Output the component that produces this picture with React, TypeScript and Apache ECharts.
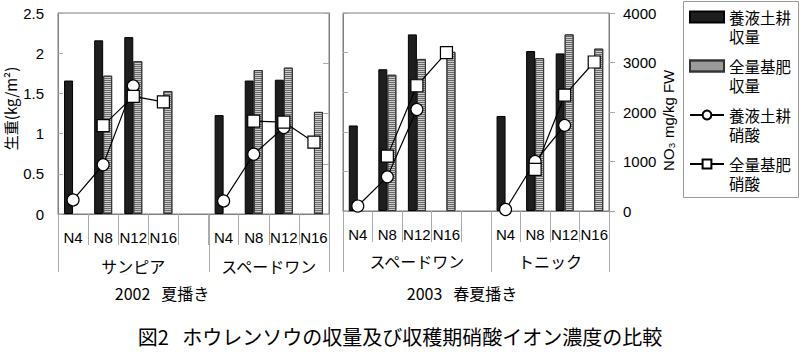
import React, { useEffect, useRef } from 'react';
import * as echarts from 'echarts';

// ---- data ----
const slots = ['N4', 'N8', 'N12', 'N16', '', 'N4', 'N8', 'N12', 'N16'];
const groups2002 = ['サンピア', 'スペードワン'];
const groups2003 = ['スペードワン', 'トニック'];
const yearLabels = ['2002\u00a0\u00a0\u00a0夏播き', '2003\u00a0\u00a0\u00a0春夏播き'];
const titleText = '図2\u00a0\u00a0\u00a0ホウレンソウの収量及び収穫期硝酸イオン濃度の比較';
const seriesNames = ['養液土耕\n収量', '全量基肥\n収量', '養液土耕\n硝酸', '全量基肥\n硝酸'];

// 2002 summer sowing: yield (kg/m2)
const yield02Hydro = [1.66, 2.16, 2.2, null, null, 1.23, 1.66, 1.67, null];
const yield02Basal = [null, 1.72, 1.9, 1.53, null, null, 1.79, 1.82, 1.27];
// 2002 nitrate (mg/kg FW)
const no3_02Hydro = [280, 980, 2550, null, null, 260, 1190, 1720, null];
const no3_02Basal = [null, 1760, 2340, 2230, null, null, 1850, 1830, 1430];

// 2003 spring-summer sowing
const yield03Hydro = [1.08, 1.79, 2.23, null, null, 1.2, 2.02, 1.99, null];
const yield03Basal = [null, 1.72, 1.92, 2.01, null, null, 1.93, 2.23, 2.05];
const no3_03Hydro = [100, 690, 2050, null, null, 30, 1000, 1730, null];
const no3_03Basal = [null, 1110, 2530, 3200, null, null, 840, 2340, 3010];

const FONT = '"Liberation Sans", Arial, "Noto Sans CJK JP", sans-serif';
const CJK = '"Noto Sans CJK JP", "Liberation Sans", sans-serif';

export default function App() {
  const ref = useRef<HTMLDivElement>(null);

  useEffect(() => {
    if (!ref.current) return;
    const chart = echarts.init(ref.current, undefined, { renderer: 'svg' });

    const axisGray = '#808080';
    const tickGray = '#aaaaaa';

    const xAxisBase = (gridIndex: number) => ({
      type: 'category',
      gridIndex,
      data: slots,
      axisLine: { show: true, lineStyle: { color: axisGray, width: 1 } },
      axisTick: { show: true, interval: 0, length: 31, lineStyle: { color: tickGray } },
      axisLabel: { interval: 0, margin: 16, fontSize: 15, color: '#000', fontFamily: FONT },
      splitLine: { show: false },
    });

    const yYield = (gridIndex: number, showLabel: boolean) => ({
      type: 'value',
      gridIndex,
      position: 'left',
      min: 0,
      max: 2.5,
      interval: 0.5,
      axisLine: { show: true, lineStyle: { color: axisGray } },
      axisTick: { show: true, inside: true, length: 5, lineStyle: { color: tickGray } },
      axisLabel: {
        show: showLabel,
        margin: 14,
        fontSize: 15,
        color: '#000',
        fontFamily: FONT,
        formatter: (v: number) => String(v),
      },
      splitLine: { show: false },
      name: showLabel ? '\u00a0\u00a0\u00a0生重(kg/m²)' : '',
      nameLocation: 'middle',
      nameGap: 40,
      nameRotate: 90,
      nameTextStyle: { fontSize: 15, color: '#000', fontFamily: CJK },
    });

    const yNO3 = (gridIndex: number, showLabel: boolean) => ({
      type: 'value',
      gridIndex,
      position: 'right',
      min: 0,
      max: 4000,
      interval: 1000,
      axisLine: { show: true, lineStyle: { color: axisGray } },
      axisTick: { show: true, inside: !showLabel, length: 6, lineStyle: { color: tickGray } },
      axisLabel: {
        show: showLabel,
        margin: 14,
        fontSize: 15,
        color: '#000',
        fontFamily: FONT,
        formatter: (v: number) => String(v),
      },
      splitLine: { show: false },
      name: showLabel ? 'NO₃ mg/kg FW\u00a0\u00a0\u00a0\u00a0' : '',
      nameLocation: 'middle',
      nameGap: 52,
      nameRotate: 90,
      nameTextStyle: { fontSize: 15, color: '#000', fontFamily: FONT },
    });

    const hydroBarStyle = { color: '#1e1e1e', borderColor: '#000', borderWidth: 1 };
    const basalBarStyle = {
      color: '#cccccc',
      borderColor: '#333',
      borderWidth: 1,
      decal: {
        symbol: 'rect',
        symbolSize: 1,
        dashArrayX: [1, 0],
        dashArrayY: [1, 1],
        rotation: 0,
        color: '#686868',
      },
    };

    const bar = (name: string, data: (number | null)[], grid: number, style: any) => ({
      type: 'bar',
      name,
      xAxisIndex: grid,
      yAxisIndex: grid * 2,
      data,
      barWidth: 9,
      barGap: '0%',
      itemStyle: style,
    });

    const line = (name: string, data: (number | null)[], grid: number, symbol: string) => ({
      type: 'line',
      name,
      xAxisIndex: grid,
      yAxisIndex: grid * 2 + 1,
      data,
      symbol,
      symbolSize: 12,
      showAllSymbol: true,
      connectNulls: false,
      lineStyle: { color: '#000', width: 1.2 },
      itemStyle: { color: '#fff', borderColor: '#000', borderWidth: 1.2 },
    });

    chart.setOption({
      animation: false,
      backgroundColor: '#fff',
      textStyle: { fontFamily: FONT },
      grid: [
        { left: 58, top: 13, width: 271, height: 201, show: true, borderColor: axisGray, borderWidth: 1 },
        { left: 343, top: 13, width: 266, height: 198, show: true, borderColor: axisGray, borderWidth: 1 },
      ],
      xAxis: [xAxisBase(0), xAxisBase(1)],
      yAxis: [yYield(0, true), yNO3(0, false), yYield(1, false), yNO3(1, true)],
      legend: {
        orient: 'vertical',
        left: 689,
        top: -11.5,
        itemWidth: 34,
        itemHeight: 11,
        itemGap: -8,
        padding: 0,
        selectedMode: false,
        // leading blank line puts the first text line level with the icon
        formatter: (name: string) => '\n' + name,
        textStyle: { fontSize: 15.5, lineHeight: 19, color: '#000', fontFamily: CJK },
        data: [
          { name: seriesNames[0], icon: 'rect' },
          { name: seriesNames[1], icon: 'rect' },
          { name: seriesNames[2] },
          { name: seriesNames[3] },
        ],
      },
      series: [
        bar(seriesNames[0], yield02Hydro, 0, hydroBarStyle),
        bar(seriesNames[1], yield02Basal, 0, basalBarStyle),
        line(seriesNames[2], no3_02Hydro, 0, 'circle'),
        line(seriesNames[3], no3_02Basal, 0, 'rect'),
        bar(seriesNames[0], yield03Hydro, 1, hydroBarStyle),
        bar(seriesNames[1], yield03Basal, 1, basalBarStyle),
        line(seriesNames[2], no3_03Hydro, 1, 'circle'),
        line(seriesNames[3], no3_03Basal, 1, 'rect'),
      ],
    });

    // Decorations: legend frame, group separators, group labels, year labels, title
    const graphics: any[] = [];
    graphics.push({
      type: 'rect',
      silent: true,
      z: -1,
      shape: { x: 683.5, y: 1.5, width: 115, height: 196 },
      style: { fill: 'none', stroke: '#999', lineWidth: 1 },
    });
    const groupSets = [groups2002, groups2003];
    const groupLabelY = [266, 261];
    [0, 1].forEach((g) => {
      const c0 = chart.convertToPixel({ xAxisIndex: g }, 0) as number;
      const c1 = chart.convertToPixel({ xAxisIndex: g }, 1) as number;
      const band = c1 - c0;
      const edge = (i: number) => c0 - band / 2 + band * i;
      const zero = chart.convertToPixel({ yAxisIndex: g * 2 }, 0) as number;
      [0, 5, 9].forEach((i) => {
        graphics.push({
          type: 'line',
          silent: true,
          shape: { x1: Math.round(edge(i)) + 0.5, y1: zero, x2: Math.round(edge(i)) + 0.5, y2: 272 },
          style: { stroke: tickGray, lineWidth: 1 },
        });
      });
      const centers = [(edge(0) + edge(5)) / 2, (edge(5) + edge(9)) / 2];
      groupSets[g].forEach((label, k) => {
        graphics.push({
          type: 'text',
          silent: true,
          x: centers[k],
          y: groupLabelY[g],
          style: { text: label, fontSize: 16, fontFamily: CJK, fill: '#000', align: 'center', verticalAlign: 'middle' },
        });
      });
    });
    const yearX = [162, 462];
    yearLabels.forEach((t, i) => {
      graphics.push({
        type: 'text',
        silent: true,
        x: yearX[i],
        y: 293,
        style: { text: t, fontSize: 16, fontFamily: CJK, fill: '#000', align: 'center', verticalAlign: 'middle' },
      });
    });
    graphics.push({
      type: 'text',
      silent: true,
      x: 400,
      y: 336,
      style: { text: titleText, fontSize: 20, fontFamily: CJK, fill: '#000', align: 'center', verticalAlign: 'middle' },
    });
    chart.setOption({ graphic: graphics });

    return () => chart.dispose();
  }, []);

  return (
    <div
      ref={ref}
      style={{ position: 'fixed', left: 0, top: 0, width: 800, height: 355, background: '#fff' }}
    />
  );
}
